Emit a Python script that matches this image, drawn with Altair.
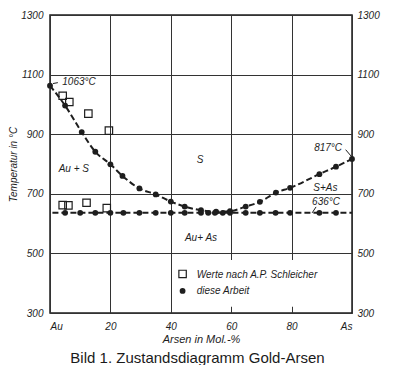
import altair as alt
import pandas as pd

# ---- data ----
liq_x = [0, 5, 10.5, 15, 20, 24, 29.6, 35, 40, 44.6, 50, 55, 59.6, 64.8, 69.5, 74.8, 79.5, 89.2, 94.7, 100]
liq_t = [1063, 996, 907, 841, 799, 760, 718, 698, 674, 657, 645, 640, 642, 657, 673, 704, 720, 766, 791, 817]
eut_x = [5, 10, 15, 20, 24.3, 29.6, 35, 40, 44.6, 50, 52.4, 54.6, 57.2, 59.6, 64.8, 69.5, 74.7, 79.5, 89.2, 94.7]
eut_t = 636
sch_x = [4.2, 6.4, 12.7, 19.5, 4.2, 6.1, 12.1, 18.8]
sch_t = [1029, 1008, 969, 912, 662, 661, 670, 652]

region_labels = ["1063°C", "Au + S", "S", "817°C", "S+As", "636°C", "Au+ As"]
region_x = [9.6, 7.9, 49.7, 92.1, 91.2, 91.4, 50]
region_t = [1075, 783, 813, 854, 719, 672, 552]

lead_x = [1.0, 97.9, 86.8]
lead_x2 = [2.6, 100, 88.1]
lead_t = [1070, 848, 636]
lead_t2 = [1073, 823, 656]

legend_labels = ["Werte nach A.P. Schleicher", "diese Arbeit"]
legend_t = [429, 374]

x_ticks = [0, 20, 40, 60, 80, 100]
y_ticks = [300, 500, 700, 900, 1100, 1300]

caption = "Bild 1. Zustandsdiagramm Gold-Arsen"
x_title = "Arsen in Mol.-%"
y_title = "Temperatur in °C"

INK = "#1e1e1e"
FONT = "Liberation Sans"

xscale = alt.Scale(domain=[0, 100], nice=False, zero=False)
yscale = alt.Scale(domain=[300, 1300], nice=False, zero=False)

X_AX = alt.Axis(values=x_ticks, grid=True, ticks=False, domain=False,
                labelExpr="datum.value == 0 ? 'Au' : datum.value == 100 ? 'As' : datum.label",
                labelPadding=8, title=x_title, titleY=26, titleBaseline="middle",
                titleFontStyle="italic", titleFontWeight="normal", titleFontSize=11,
                titleFont=FONT, titleColor=INK)
Y_AX_L = alt.Axis(values=y_ticks, grid=True, ticks=False, domain=False, orient="left",
                  format="d", labelPadding=7, title=y_title, titleX=-37, titleBaseline="middle",
                  titleFontStyle="italic", titleFontWeight="normal", titleFontSize=10,
                  titleFont=FONT, titleColor=INK)
Y_AX_R = alt.Axis(values=y_ticks, grid=False, ticks=False, domain=False, orient="right",
                  format="d", labelPadding=5, title=None)


def X(field):
    return alt.X(field, type="quantitative", scale=xscale, axis=X_AX)


def Y(field, ax=None):
    return alt.Y(field, type="quantitative", scale=yscale, axis=ax)


liq = pd.DataFrame({"x": liq_x, "t": liq_t})
eut = pd.DataFrame({"x": eut_x, "t": [eut_t] * len(eut_x)})
eut_line = pd.DataFrame({"x": [0.8, 100], "t": [eut_t, eut_t]})
sch = pd.DataFrame({"x": sch_x, "t": sch_t})
reg = pd.DataFrame({"label": region_labels, "x": region_x, "t": region_t})
lead = pd.DataFrame({"x": lead_x, "x2": lead_x2, "t": lead_t, "t2": lead_t2})
leg_box = pd.DataFrame({"x": [40.4], "x2": [99.6], "t": [478], "t2": [321]})
leg_txt = pd.DataFrame({"label": legend_labels, "x": [48.6, 48.6], "t": legend_t})
leg_sq = pd.DataFrame({"x": [43.9], "t": [431]})
leg_dot = pd.DataFrame({"x": [43.9], "t": [374]})
cap = pd.DataFrame({"label": [caption]})

box = alt.Chart(leg_box).mark_rect(fill="white").encode(
    x=X("x"), x2="x2", y=Y("t", Y_AX_L), y2="t2")

liq_line = alt.Chart(liq).mark_line(color=INK, strokeWidth=2, strokeDash=[6, 3],
                                    interpolate="monotone").encode(x=X("x"), y=Y("t"))
eut_l = alt.Chart(eut_line).mark_line(color=INK, strokeWidth=2, strokeDash=[6, 3]).encode(
    x=X("x"), y=Y("t"))
liq_dots = alt.Chart(liq).mark_circle(color=INK, size=34, opacity=1).encode(x=X("x"), y=Y("t"))
eut_dots = alt.Chart(eut).mark_circle(color=INK, size=34, opacity=1).encode(x=X("x"), y=Y("t"))
sch_pts = alt.Chart(sch).mark_square(filled=False, color=INK, size=55, strokeWidth=1.2,
                                     opacity=1).encode(x=X("x"), y=Y("t"))

reg_txt = alt.Chart(reg).mark_text(font=FONT, fontStyle="italic", fontSize=10, color=INK,
                                   align="center", baseline="middle").encode(
    x=X("x"), y=Y("t"), text="label")
leads = alt.Chart(lead).mark_rule(color=INK, strokeWidth=1).encode(
    x=X("x"), x2="x2", y=Y("t"), y2="t2")

lg_txt = alt.Chart(leg_txt).mark_text(font=FONT, fontStyle="italic", fontSize=10, color=INK,
                                      align="left", baseline="middle").encode(
    x=X("x"), y=Y("t"), text="label")
lg_sq = alt.Chart(leg_sq).mark_square(filled=False, color=INK, size=55, strokeWidth=1.2,
                                      opacity=1).encode(x=X("x"), y=Y("t"))
lg_dot = alt.Chart(leg_dot).mark_circle(color=INK, size=34, opacity=1).encode(x=X("x"), y=Y("t"))

right_axis = alt.Chart(liq).mark_point(opacity=0).encode(x=X("x"), y=Y("t", Y_AX_R))

cap_txt = alt.Chart(cap).mark_text(font=FONT, fontSize=15, color="#1a1a1a", align="center",
                                   baseline="middle").encode(
    x=alt.value(147.5), y=alt.value(343), text="label")

chart = alt.layer(
    box, liq_line, eut_l, liq_dots, eut_dots, sch_pts, reg_txt, leads,
    lg_txt, lg_sq, lg_dot, cap_txt, right_axis
).resolve_axis(y="independent").properties(
    width=302, height=298,
    autosize=alt.AutoSizeParams(type="none"),
    padding={"left": 42, "top": 7, "right": 40, "bottom": 52},
    background="white",
).configure_view(
    stroke=INK, strokeWidth=1.5
).configure_axis(
    gridColor="#333", gridWidth=1, gridOpacity=1,
    labelFont=FONT, labelFontStyle="italic", labelFontSize=10, labelColor=INK,
    titleFontWeight="normal",
)

chart.save("out.html", embed_options={"renderer": "svg", "actions": False})
